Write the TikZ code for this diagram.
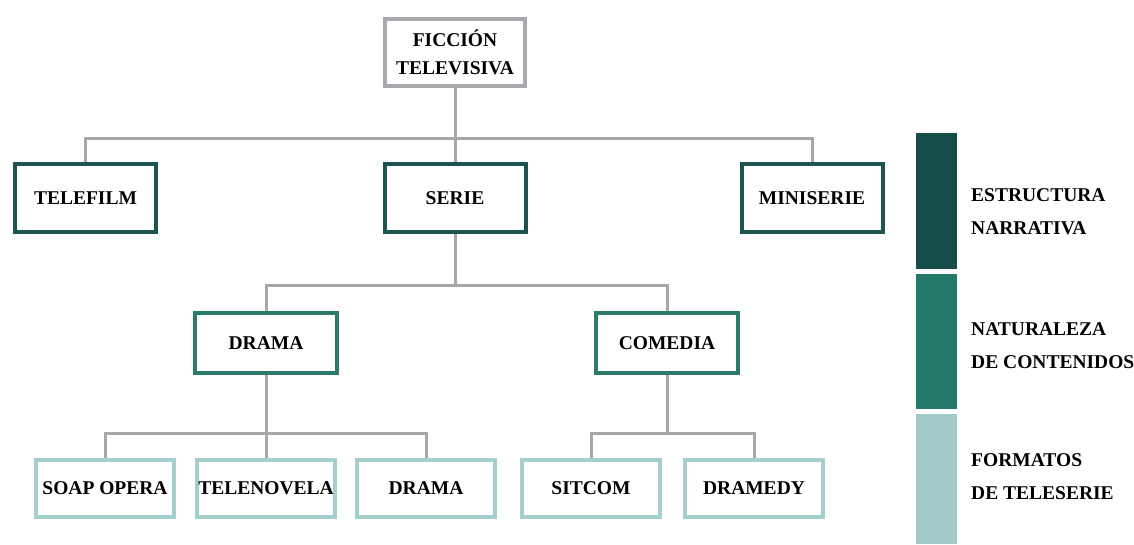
\documentclass[tikz,border=0pt]{standalone}
\usepackage{fontspec}
\setmainfont{Liberation Serif}
\usetikzlibrary{backgrounds}
\definecolor{rootgray}{HTML}{A9A9AD}
\definecolor{linkgray}{HTML}{A6A6AB}
\definecolor{lvdark}{HTML}{1E5450}
\definecolor{lvmid}{HTML}{2C7A6C}
\definecolor{lvlight}{HTML}{A4CFCC}
\definecolor{bardark}{HTML}{164C4A}
\definecolor{barmid}{HTML}{23786A}
\definecolor{barlight}{HTML}{A2CAC8}
\tikzset{
  box/.style={draw, line width=4pt, fill=white, align=center, inner sep=0pt,
    font=\fontsize{19.5}{28}\selectfont\bfseries},
  rootbox/.style={box, draw=rootgray, minimum width=140pt, minimum height=67pt},
  kindbox/.style={box, draw=lvdark, minimum width=141pt, minimum height=68pt},
  genrebox/.style={box, draw=lvmid, minimum width=142pt, minimum height=60pt},
  formatbox/.style={box, draw=lvlight, minimum width=138pt, minimum height=57pt},
  link/.style={draw=linkgray, line width=3pt},
  legendtext/.style={anchor=west, align=left, inner sep=0pt,
    font=\fontsize{19.5}{33}\selectfont\bfseries},
}
\begin{document}
\begin{tikzpicture}[x=1pt, y=-1pt]
\useasboundingbox (0,0) rectangle (1134,544);

% tree nodes
\node[rootbox] (root) at (455,52.5) {FICCIÓN\\TELEVISIVA};

\node[kindbox] (telefilm) at (85.5,198) {TELEFILM};
\node[kindbox] (serie) at (455,198) {SERIE};
\node[kindbox] (miniserie) at (812,198) {MINISERIE};

\node[genrebox] (drama) at (266,343) {DRAMA};
\node[genrebox] (comedia) at (667,343) {COMEDIA};

\node[formatbox] (soap) at (105,488.5) {SOAP OPERA};
\node[formatbox] (telenovela) at (266,488.5) {TELENOVELA};
\node[formatbox] (dramaf) at (426,488.5) {DRAMA};
\node[formatbox] (sitcom) at (591,488.5) {SITCOM};
\node[formatbox] (dramedy) at (754,488.5) {DRAMEDY};

% branch junctions
\coordinate (j1) at (455,138);
\coordinate (j2) at (455,285);
\coordinate (j3) at (266,433);
\coordinate (j4) at (667,433);

\begin{scope}[on background layer]
  \draw[link] (root) -- (j1);
  \draw[link] (j1) -| (telefilm.north);
  \draw[link] (j1) -| (miniserie.north);
  \draw[link] (j1) -- (serie.north);

  \draw[link] (serie) -- (j2);
  \draw[link] (j2) -| (drama.north);
  \draw[link] (j2) -| (comedia.north);

  \draw[link] (drama) -- (j3);
  \draw[link] (j3) -| (soap.north);
  \draw[link] (j3) -| (dramaf.north);
  \draw[link] (j3) -- (telenovela.north);

  \draw[link] (comedia) -- (j4);
  \draw[link] (j4) -| (sitcom.north);
  \draw[link] (j4) -| (dramedy.north);
\end{scope}

% legend bars
\fill[bardark] (916,133) rectangle (957,269);
\fill[barmid] (916,274) rectangle (957,409);
\fill[barlight] (916,414) rectangle (957,544);

\node[legendtext] (lgA) at (971,212) {ESTRUCTURA\\NARRATIVA};
\node[legendtext] (lgB) at (971,346) {NATURALEZA\\DE CONTENIDOS};
\node[legendtext] (lgC) at (971,477) {FORMATOS\\DE TELESERIE};
\end{tikzpicture}
\end{document}
